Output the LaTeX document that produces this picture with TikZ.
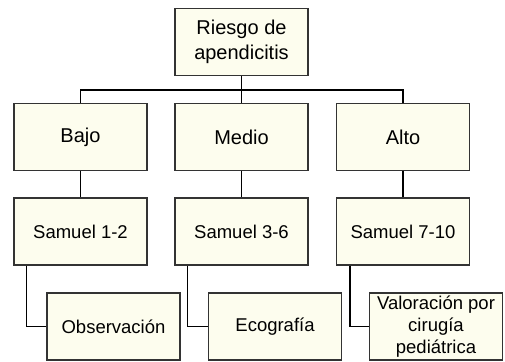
\documentclass[tikz,border=0pt]{standalone}
\usepackage{fontspec}
\setmainfont{Liberation Sans}
\usepackage{xcolor}
\usepackage{tikz}
\definecolor{caja}{HTML}{FDFDEE}
\definecolor{borde}{HTML}{333333}

\begin{document}
\begin{tikzpicture}[x=1pt,y=-1pt,
	caja/.style={draw=borde,fill=caja,line width=1.2pt,minimum width=133pt,minimum height=67pt,align=center,inner sep=1pt},
	grande/.style={font=\fontsize{20}{25}\selectfont},
	chica/.style={font=\fontsize{18.5}{21.7}\selectfont},
	linea/.style={line width=1.4pt}]
	\useasboundingbox (0,0) rectangle (505,361);
	\node[caja,grande] (riesgo) at (241.5,42) {Riesgo de\\apendicitis};
	\node[caja,grande] (bajo) at (80.5,137) {Bajo};
	\node[caja,grande] (medio) at (241.5,137) {Medio};
	\node[caja,grande] (alto) at (403,137) {Alto};
	\node[caja,chica] (sam bajo) at (80.5,231.5) {Samuel 1-2};
	\node[caja,chica] (sam medio) at (241.5,231.5) {Samuel 3-6};
	\node[caja,chica] (sam alto) at (403,231.5) {Samuel 7-10};
	\node[caja,chica] (obs) at (113.5,326.5) {Observación};
	\node[caja,chica] (eco) at (275,326.5) {Ecografía};
	\node[caja,chica] (val) at (436,326.5) {Valoración por\\cirugía\\pediátrica};
	\draw[linea] (riesgo.south) -- (medio.north);
	\draw[linea] (bajo.north) -- ++(0,-13) -| (alto.north);
	\foreach \a/\b in {bajo/sam bajo,medio/sam medio,alto/sam alto}
		\draw[linea] (\a.south) -- (\b.north);
	\draw[linea] ([xshift=-54pt]sam bajo.south) |- (obs.west);
	\draw[linea] ([xshift=-54pt]sam medio.south) |- (eco.west);
	\draw[linea] ([xshift=-53pt]sam alto.south) |- (val.west);
\end{tikzpicture}
\end{document}
